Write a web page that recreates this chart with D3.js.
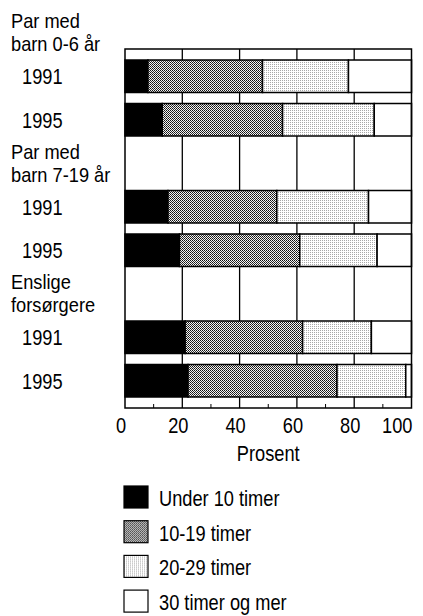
<!DOCTYPE html>
<html>
<head>
<meta charset="utf-8">
<script src="https://cdn.jsdelivr.net/npm/d3@7"></script>
<style>
  body { margin: 0; background: #fff; }
  text { font-family: "Liberation Sans", Arial, sans-serif; font-size: 22.5px; fill: #000; }
  text.grp { font-size: 20.5px; }
</style>
</head>
<body>
<div id="chart"></div>
<script>
const width = 423;
const height = 616;

// data
const groups = [["Par med", "barn 0-6 år"], ["Par med", "barn 7-19 år"], ["Enslige", "forsørgere"]];
const years = ["1991", "1995"];
const categories = ["Under 10 timer", "10-19 timer", "20-29 timer", "30 timer og mer"];
const under10 = [8, 13, 15, 19, 21, 22];
const t10to19 = [40, 42, 38, 42, 41, 52];
const t20to29 = [30, 32, 32, 27, 24, 24];
const t30plus = [22, 13, 15, 12, 14, 2];
const xTicks = [0, 20, 40, 60, 80, 100];
const minorTicks = [10, 30, 50, 70, 90];

const fills = ["#000", "url(#dark)", "url(#light)", "#fff"];
const squeeze = 0.81; // condensed look of the original typeface

// rows: one header slot per group, then one slot per year
const rows = [];
const bars = [];
groups.forEach((g, gi) => {
    rows.push("h" + gi);
    years.forEach((yr, yi) => {
        const i = gi * 2 + yi;
        const key = gi + "-" + yr;
        rows.push(key);
        bars.push({key: key, year: yr, vals: [under10[i], t10to19[i], t20to29[i], t30plus[i]]});
    });
});

const margin = {left: 125, right: 11.5};

const x = d3.scaleLinear()
    .domain([0, 100])
    .range([margin.left, width - margin.right]);

const y = d3.scaleBand()
    .domain(rows)
    .range([5.5, 408])
    .paddingInner(0.253)
    .paddingOuter(0.253);

const plotTop = y("h0") + y.bandwidth();
const plotBottom = 408;

const place = (fx, fy, k = squeeze) => (d, i) => `translate(${fx(d, i)},${fy(d, i)}) scale(${k},1)`;

const svg = d3.select("#chart").append("svg").attr("width", width).attr("height", height);

// fill patterns
const defs = svg.append("defs");
const dark = defs.append("pattern").attr("id", "dark").attr("patternUnits", "userSpaceOnUse")
    .attr("width", 2).attr("height", 2);
dark.append("rect").attr("width", 2).attr("height", 2).attr("fill", "#f4f4f4");
dark.append("rect").attr("width", 1).attr("height", 1).attr("fill", "#111");
dark.append("rect").attr("x", 1).attr("y", 1).attr("width", 1).attr("height", 1).attr("fill", "#333");
const light = defs.append("pattern").attr("id", "light").attr("patternUnits", "userSpaceOnUse")
    .attr("width", 2).attr("height", 2);
light.append("rect").attr("width", 2).attr("height", 2).attr("fill", "#fff");
light.append("rect").attr("width", 1).attr("height", 1).attr("fill", "#a8a8a8");

// grid lines
svg.append("g")
    .selectAll("line")
    .data(xTicks.slice(1, -1))
    .join("line")
    .attr("x1", d => x(d)).attr("x2", d => x(d))
    .attr("y1", plotTop).attr("y2", plotBottom)
    .attr("stroke", "#000").attr("stroke-width", 1.3);

// minor ticks
svg.append("g")
    .selectAll("line")
    .data(minorTicks)
    .join("line")
    .attr("x1", d => x(d)).attr("x2", d => x(d))
    .attr("y1", plotBottom - 4).attr("y2", plotBottom)
    .attr("stroke", "#000").attr("stroke-width", 1);

// stacked bars
const barG = svg.append("g")
    .selectAll("g")
    .data(bars)
    .join("g");

barG.selectAll("rect")
    .data(d => {
        let acc = 0;
        return d.vals.map((v, i) => {
            const s = {key: d.key, x0: acc, x1: acc + v, i: i};
            acc += v;
            return s;
        });
    })
    .join("rect")
    .attr("x", d => x(d.x0))
    .attr("width", d => x(d.x1) - x(d.x0))
    .attr("y", d => y(d.key))
    .attr("height", y.bandwidth())
    .attr("fill", d => fills[d.i])
    .attr("stroke", "#000")
    .attr("stroke-width", 1.5);

// frame
svg.append("rect")
    .attr("x", x(0)).attr("y", plotTop)
    .attr("width", x(100) - x(0)).attr("height", plotBottom - plotTop)
    .attr("fill", "none").attr("stroke", "#000").attr("stroke-width", 1.5);

// group labels, two lines each
const labels = svg.append("g");
groups.forEach((g, gi) => {
    labels.append("g")
        .selectAll("text")
        .data(g)
        .join("text")
        .attr("class", "grp")
        .attr("transform", place(() => 11, (d, li) => y(gi + "-" + years[0]) - 32 + li * 23, 0.89))
        .text(d => d);
});

labels.selectAll(".yr")
    .data(bars)
    .join("text")
    .attr("class", "yr")
    .attr("transform", place(() => 22, d => y(d.key) + y.bandwidth() / 2 + 8))
    .text(d => d.year);

// x axis labels
svg.append("g")
    .selectAll("text")
    .data(xTicks)
    .join("text")
    .attr("transform", place(d => d === 100 ? x(d) + 1 : x(d) - 4, () => 433))
    .attr("text-anchor", d => d === 100 ? "end" : "middle")
    .text(d => d);

svg.append("text")
    .attr("transform", place(() => (x(0) + x(100)) / 2, () => 461))
    .attr("text-anchor", "middle")
    .text("Prosent");

// legend
const legend = svg.append("g")
    .selectAll("g")
    .data(categories)
    .join("g")
    .attr("transform", (d, i) => `translate(124,${486 + i * 34.7})`);

legend.append("rect")
    .attr("width", 24).attr("height", 22)
    .attr("fill", (d, i) => fills[i])
    .attr("stroke", "#000").attr("stroke-width", 1.2);

legend.append("text")
    .attr("transform", place(() => 35, () => 20))
    .text(d => d);
</script>
</body>
</html>
